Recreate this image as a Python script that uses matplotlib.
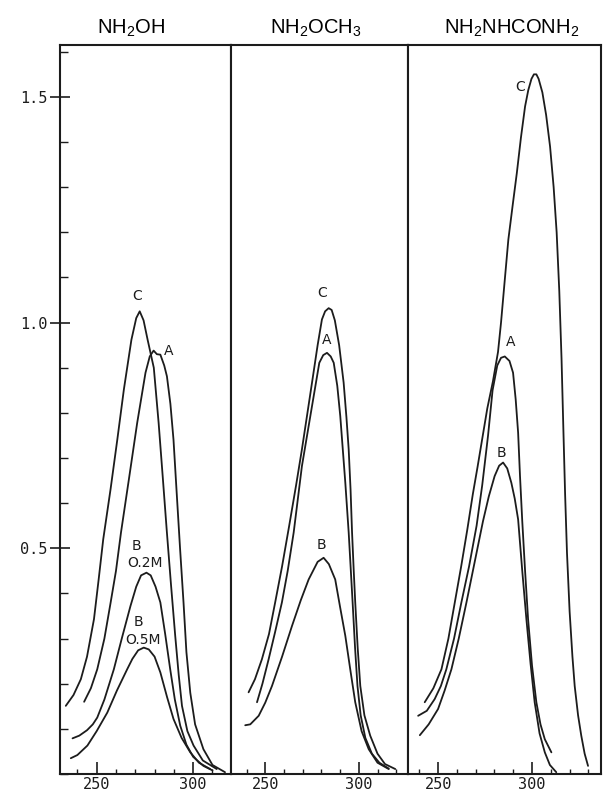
import matplotlib
matplotlib.use("Agg")
import matplotlib.pyplot as plt
from matplotlib.ticker import MultipleLocator, FixedLocator

plt.rcParams['font.family'] = ['Liberation Sans', 'DejaVu Sans']
plt.rcParams['mathtext.fontset'] = 'custom'
plt.rcParams['mathtext.rm'] = 'Liberation Sans'

# ============================
# Data (wavelength nm, absorbance)
# ============================
titles = [r"NH$_\mathregular{2}$OH", r"NH$_\mathregular{2}$OCH$_\mathregular{3}$",
          r"NH$_\mathregular{2}$NHCONH$_\mathregular{2}$"]

# panel 1 : NH2OH
p1_C_x = [234.0, 238.0, 241.8, 245.0, 248.6, 251.0, 253.4, 257.2, 260.7, 264.1, 268.0, 270.5,
          272.3, 274.3, 276.4, 279.6, 282.1, 284.2, 286.3, 288.5, 290.7, 292.5, 294.2, 297.0,
          300.2, 305.0, 312.2]
p1_C_y = [0.151, 0.175, 0.210, 0.260, 0.343, 0.430, 0.520, 0.631, 0.741, 0.852, 0.962, 1.010,
          1.025, 1.005, 0.962, 0.900, 0.778, 0.660, 0.540, 0.420, 0.306, 0.220, 0.151, 0.095,
          0.063, 0.030, 0.011]
p1_A_x = [243.5, 247.0, 250.3, 254.0, 257.2, 260.0, 262.6, 266.7, 271.0, 275.3, 277.5, 279.5,
          281.2, 283.0, 285.0, 286.4, 288.2, 289.8, 291.5, 293.2, 295.0, 296.5, 298.5, 301.0,
          305.3, 310.0, 316.5]
p1_A_y = [0.160, 0.190, 0.232, 0.300, 0.379, 0.450, 0.535, 0.653, 0.778, 0.889, 0.925, 0.938,
          0.930, 0.929, 0.905, 0.881, 0.820, 0.741, 0.620, 0.500, 0.380, 0.270, 0.180, 0.110,
          0.055, 0.020, 0.004]
p1_B2_x = [237.5, 241.0, 245.0, 248.0, 250.3, 254.0, 258.9, 263.0, 267.5, 270.5, 273.0, 275.8,
           278.0, 280.5, 283.0, 285.5, 288.1, 290.5, 293.3, 296.5, 300.0, 305.3, 310.0]
p1_B2_y = [0.079, 0.085, 0.097, 0.110, 0.125, 0.165, 0.232, 0.300, 0.372, 0.415, 0.440, 0.446,
           0.440, 0.415, 0.380, 0.310, 0.232, 0.165, 0.107, 0.065, 0.038, 0.018, 0.008]
p1_B5_x = [236.6, 240.0, 245.2, 250.0, 255.5, 260.5, 265.8, 268.5, 271.5, 274.4, 277.0, 280.0,
           283.0, 286.5, 289.8, 294.0, 298.5, 303.0, 308.8]
p1_B5_y = [0.035, 0.042, 0.063, 0.095, 0.136, 0.185, 0.232, 0.255, 0.274, 0.280, 0.276, 0.260,
           0.225, 0.170, 0.122, 0.080, 0.048, 0.025, 0.011]

# panel 2 : NH2OCH3
p2_C_x = [241.1, 244.5, 248.2, 252.0, 255.3, 259.0, 262.8, 266.5, 269.6, 275.0, 278.0, 280.3,
          282.0, 283.9, 285.5, 287.2, 289.5, 291.9, 293.4, 294.6, 295.6, 296.4, 297.3, 298.1,
          299.4, 300.8, 303.0, 306.1, 310.0, 314.0, 319.5]
p2_C_y = [0.181, 0.210, 0.254, 0.310, 0.380, 0.460, 0.550, 0.640, 0.719, 0.867, 0.950, 1.007,
          1.025, 1.032, 1.028, 1.005, 0.950, 0.867, 0.790, 0.719, 0.630, 0.535, 0.450, 0.380,
          0.280, 0.195, 0.130, 0.085, 0.045, 0.022, 0.011]
p2_A_x = [245.6, 248.5, 251.8, 255.3, 258.9, 262.0, 265.2, 269.6, 274.1, 278.9, 281.0, 283.0,
          285.0, 286.6, 288.5, 290.1, 292.8, 294.6, 296.7, 298.0, 299.3, 301.0, 303.5, 307.0,
          311.0, 316.0]
p2_A_y = [0.159, 0.200, 0.254, 0.315, 0.380, 0.450, 0.535, 0.682, 0.793, 0.911, 0.928, 0.933,
          0.925, 0.911, 0.860, 0.793, 0.645, 0.535, 0.380, 0.280, 0.195, 0.130, 0.080, 0.045,
          0.025, 0.012]
p2_B_x = [239.3, 242.0, 246.5, 250.0, 253.6, 259.0, 264.3, 269.0, 273.2, 278.0, 281.2, 284.0,
          287.4, 290.0, 292.8, 295.5, 298.1, 301.5, 305.3, 310.0, 316.0]
p2_B_y = [0.108, 0.110, 0.129, 0.158, 0.195, 0.260, 0.328, 0.385, 0.431, 0.470, 0.479, 0.465,
          0.431, 0.370, 0.306, 0.230, 0.159, 0.095, 0.055, 0.025, 0.011]

# panel 3 : NH2NHCONH2
p3_C_x = [242.9, 247.5, 251.8, 255.5, 258.9, 262.3, 265.5, 268.5, 271.0, 273.6, 276.2, 279.2,
          281.9, 283.5, 285.4, 287.4, 289.7, 291.9, 294.1, 296.3, 298.0, 299.7, 301.0, 302.3,
          303.5, 305.5, 307.5, 309.6, 311.5, 313.1, 314.5, 315.7, 316.7, 317.6, 318.6, 320.0,
          321.5, 322.7, 324.5, 326.2, 328.0, 329.8]
p3_C_y = [0.159, 0.190, 0.232, 0.300, 0.380, 0.460, 0.540, 0.620, 0.680, 0.745, 0.810, 0.870,
          0.935, 1.000, 1.090, 1.184, 1.260, 1.331, 1.410, 1.479, 1.515, 1.540, 1.550, 1.550,
          1.540, 1.510, 1.460, 1.390, 1.300, 1.200, 1.070, 0.920, 0.760, 0.620, 0.490, 0.360,
          0.260, 0.195, 0.130, 0.085, 0.045, 0.018]
p3_A_x = [239.4, 244.0, 248.2, 251.5, 254.4, 258.5, 262.4, 266.5, 270.5, 273.5, 276.6, 279.0,
          281.5, 283.5, 285.5, 288.0, 289.9, 291.3, 292.6, 293.6, 294.8, 296.3, 297.9, 300.0,
          302.3, 304.5, 306.8, 310.3]
p3_A_y = [0.129, 0.140, 0.166, 0.195, 0.232, 0.300, 0.380, 0.460, 0.550, 0.640, 0.750, 0.850,
          0.905, 0.922, 0.925, 0.915, 0.889, 0.830, 0.756, 0.660, 0.560, 0.450, 0.343, 0.240,
          0.159, 0.110, 0.077, 0.048]
p3_B_x = [240.3, 245.0, 250.0, 253.5, 257.1, 261.0, 265.1, 269.5, 273.9, 277.0, 280.1, 282.5,
          284.6, 286.8, 289.0, 290.8, 292.6, 294.8, 297.0, 299.2, 301.4, 304.0, 306.8, 309.5,
          312.9]
p3_B_y = [0.086, 0.110, 0.144, 0.185, 0.232, 0.300, 0.380, 0.470, 0.560, 0.615, 0.660, 0.683,
          0.690, 0.677, 0.645, 0.610, 0.564, 0.450, 0.343, 0.245, 0.159, 0.090, 0.048, 0.020,
          0.004]

panels = [
    [(p1_C_x, p1_C_y), (p1_A_x, p1_A_y), (p1_B2_x, p1_B2_y), (p1_B5_x, p1_B5_y)],
    [(p2_C_x, p2_C_y), (p2_A_x, p2_A_y), (p2_B_x, p2_B_y)],
    [(p3_C_x, p3_C_y), (p3_A_x, p3_A_y), (p3_B_x, p3_B_y)],
]

# curve labels (text, x, y) per panel
labels = [
    [("C", 270.9, 1.058), ("A", 287.3, 0.937), ("B", 270.7, 0.505), ("O.2M", 275.0, 0.468),
     ("B", 271.6, 0.336), ("O.5M", 274.1, 0.296)],
    [("C", 280.3, 1.066), ("A", 283.0, 0.962), ("B", 280.3, 0.507)],
    [("C", 293.6, 1.523), ("A", 288.8, 0.958), ("B", 283.7, 0.712)],
]

# ============================
# Layout (pixels -> figure fraction)
# ============================
W, H = 604, 793
edges = [60, 231, 408, 601]
xlims = [(231.0, 319.6), (231.7, 326.3), (234.0, 336.7)]
title_x = [131, 316, 512]
bottom_px, top_px = 774, 45

fig = plt.figure(figsize=(W / 100, H / 100), dpi=100)
ink = '#1c1c1c'

for i in range(3):
    ax = fig.add_axes([edges[i] / W, (H - bottom_px) / H,
                       (edges[i + 1] - edges[i]) / W, (bottom_px - top_px) / H])
    for x, y in panels[i]:
        ax.plot(x, y, color=ink, lw=1.3, solid_joinstyle='round', solid_capstyle='round')
    for t, lx, ly in labels[i]:
        ax.text(lx, ly, t, ha='center', va='center', fontsize=10, color=ink,
                family='DejaVu Sans')
    ax.set_xlim(*xlims[i])
    ax.set_ylim(0, 1.615)
    for s in ax.spines.values():
        s.set_linewidth(1.5)
        s.set_color(ink)

    ax.xaxis.set_major_locator(FixedLocator([250, 300]))
    ax.xaxis.set_minor_locator(MultipleLocator(10))
    ax.tick_params(axis='x', which='major', direction='in', length=8.5, width=1.2,
                   pad=2, labelsize=11, colors=ink)
    ax.tick_params(axis='x', which='minor', direction='in', length=3.8, width=1.0, colors=ink)
    for lab in ax.get_xticklabels():
        lab.set_family('DejaVu Sans Mono')

    if i == 0:
        ax.yaxis.set_major_locator(FixedLocator([0.5, 1.0, 1.5]))
        ax.yaxis.set_minor_locator(MultipleLocator(0.1))
        ax.set_yticklabels(["0.5", "1.0", "1.5"])
        ax.tick_params(axis='y', which='major', direction='inout', length=14, width=1.2,
                       pad=2, labelsize=11, colors=ink)
        ax.tick_params(axis='y', which='minor', direction='in', length=5.5, width=1.0, colors=ink)
        for lab in ax.get_yticklabels():
            lab.set_family('DejaVu Sans Mono')
    else:
        ax.tick_params(axis='y', which='both', left=False, labelleft=False)

    fig.text(title_x[i] / W, 1 - 28 / H, titles[i], ha='center', va='center',
             fontsize=14.5, color='black')

fig.savefig("out.png", dpi=100)
